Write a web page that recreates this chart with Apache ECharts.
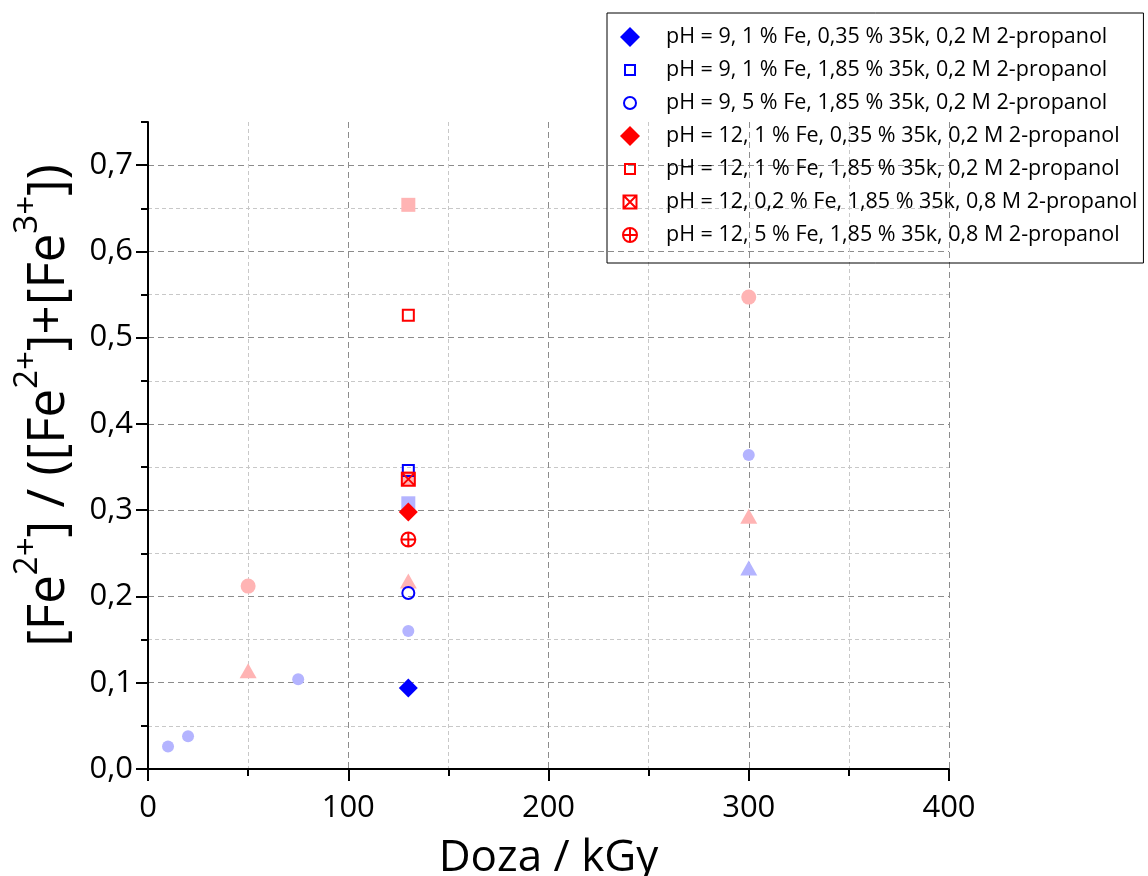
<!DOCTYPE html>
<html>
<head>
<meta charset="utf-8">
<script src="https://cdn.jsdelivr.net/npm/echarts@6/dist/echarts.min.js"></script>
<style>
html,body{margin:0;padding:0;background:#fff;}
#chart{width:1148px;height:876px;}
</style>
</head>
<body>
<div id="chart"></div>
<script>
// ---- data ----
const legendNames = [
  'pH = 9, 1 % Fe, 0,35 % 35k, 0,2 M 2-propanol',
  'pH = 9, 1 % Fe, 1,85 % 35k, 0,2 M 2-propanol',
  'pH = 9, 5 % Fe, 1,85 % 35k, 0,2 M 2-propanol',
  'pH = 12, 1 % Fe, 0,35 % 35k, 0,2 M 2-propanol',
  'pH = 12, 1 % Fe, 1,85 % 35k, 0,2 M 2-propanol',
  'pH = 12, 0,2 % Fe, 1,85 % 35k, 0,8 M 2-propanol',
  'pH = 12, 5 % Fe, 1,85 % 35k, 0,8 M 2-propanol'
];
// main series: [dose kGy, ratio]
const s1 = [[130, 0.094]];
const s2 = [[130, 0.346]];
const s3 = [[130, 0.204]];
const s4 = [[130, 0.298]];
const s5 = [[130, 0.526]];
const s6 = [[130, 0.336]];
const s7 = [[130, 0.266]];
// faded background points
const fadedBlueCircle = [[10, 0.026], [20, 0.038], [75, 0.104], [130, 0.160], [300, 0.364]];
const fadedBlueSquare = [[130, 0.308]];
const fadedBlueTriangle = [[300, 0.233]];
const fadedRedCircle = [[50, 0.212], [300, 0.547]];
const fadedRedSquare = [[130, 0.654], [130, 0.337]];
const fadedRedTriangle = [[50, 0.114], [130, 0.218], [300, 0.293]];
const xTitle = 'Doza / kGy';

// ---- style ----
const FONT = 'Open Sans';
const BLUE = '#0000ff', RED = '#ff0000';
const FBLUE = '#b4b4ff', FRED = '#ffb4b4';
const NONE = 'rgba(255,255,255,0)';
const P_SQUARE = 'path://M0,0L10,0L10,10L0,10Z';
const P_XSQUARE = 'path://M0,0L10,0L10,10L0,10ZM0,0L10,10M10,0L0,10';
const P_CPLUS = 'path://M10,5A5,5,0,1,1,0,5A5,5,0,1,1,10,5ZM5,0L5,10M0,5L10,5';
const L_DIAMOND = 'path://M10,0.5L19.5,10L10,19.5L0.5,10Z';
const L_SQUARE = 'path://M0,0M20,20M5,5L15,5L15,15L5,15Z';
const L_CIRCLE = 'path://M0,0M20,20M16,10A6,6,0,1,1,4,10A6,6,0,1,1,16,10Z';
const L_XSQUARE = 'path://M0,0M20,20M3.5,3.5L16.5,3.5L16.5,16.5L3.5,16.5ZM3.5,3.5L16.5,16.5M16.5,3.5L3.5,16.5';
const L_CPLUS = 'path://M0,0M20,20M17,10A7,7,0,1,1,3,10A7,7,0,1,1,17,10ZM10,3L10,17M3,10L17,10';

function faded(data, symbol, size, color) {
  return { type: 'scatter', data, symbol, symbolSize: size, itemStyle: { color, borderWidth: 0, opacity: 1 }, silent: true };
}
function main(name, data, symbol, size, color, open) {
  return {
    type: 'scatter', name, data, symbol, symbolSize: size,
    itemStyle: open ? { color: NONE, borderColor: color, borderWidth: 2, opacity: 1 } : { color, borderWidth: 0, opacity: 1 }
  };
}

const chart = echarts.init(document.getElementById('chart'), null, { renderer: 'canvas' });
const fmtY = v => (Math.abs(v * 10 - Math.round(v * 10)) > 1e-6) ? '' : v.toFixed(1).replace('.', ',');

const option = {
  backgroundColor: '#fff',
  animation: false,
  textStyle: { fontFamily: FONT },
  grid: { left: 148, right: 199, top: 122, bottom: 107, containLabel: false, outerBoundsMode: 'none' },
  xAxis: {
    type: 'value', min: 0, max: 400, interval: 100,
    name: xTitle, nameLocation: 'middle', nameGap: 67,
    nameTextStyle: { fontFamily: FONT, fontSize: 44, color: '#000' },
    axisLine: { show: true, onZero: false, lineStyle: { color: '#000', width: 2 } },
    axisTick: { show: true, inside: false, length: 12, lineStyle: { color: '#000', width: 2 } },
    minorTick: { show: true, splitNumber: 2, length: 7, lineStyle: { color: '#000', width: 2 } },
    axisLabel: { fontFamily: FONT, fontSize: 31, color: '#000', margin: 24 },
    splitLine: { show: true, lineStyle: { color: '#8c8c8c', width: 1, type: [6, 4] } },
    minorSplitLine: { show: true, lineStyle: { color: '#c8c8c8', width: 1, type: [4, 3] } }
  },
  yAxis: [
    {
      type: 'value', min: 0, max: 0.75, interval: 0.1, position: 'left',
      name: '{m|[Fe}{s|2+}{m|] / ([Fe}{s|2+}{m|]+[Fe}{s|3+}{m|])}',
      nameLocation: 'middle', nameRotate: 90, nameGap: 73,
      nameTextStyle: {
        fontFamily: FONT, color: '#000', padding: [0, 0, 0, 80],
        rich: {
          m: { fontFamily: FONT, fontSize: 51, color: '#000', lineHeight: 64, verticalAlign: 'bottom' },
          s: { fontFamily: FONT, fontSize: 33, color: '#000', lineHeight: 33, verticalAlign: 'top' }
        }
      },
      axisLine: { show: true, onZero: false, lineStyle: { color: '#000', width: 2 } },
      axisTick: { show: true, inside: false, length: 12, lineStyle: { color: '#000', width: 2 } },
      axisLabel: { fontFamily: FONT, fontSize: 31, color: '#000', margin: 15, formatter: fmtY, showMaxLabel: false },
      splitLine: { show: true, showMaxLine: false, lineStyle: { color: '#8c8c8c', width: 1, type: [6, 4] } }
    },
    {
      type: 'value', min: 0, max: 0.75, interval: 0.05, position: 'left',
      axisLine: { show: false },
      axisTick: { show: true, inside: false, length: 7, lineStyle: { color: '#000', width: 2 } },
      axisLabel: { show: false },
      splitLine: { show: true, showMaxLine: false, lineStyle: { color: ['rgba(0,0,0,0)', '#c8c8c8'], width: 1, type: [4, 3] } }
    }
  ],
  legend: {
    orient: 'vertical', left: 607, top: 13,
    padding: [13, 6, 17, 12],
    itemWidth: 24, itemHeight: 20, itemGap: 11,
    borderColor: '#000', borderWidth: 1, backgroundColor: 'transparent',
    formatter: n => '{t|' + n + '}',
    textStyle: {
      fontFamily: FONT, fontSize: 21.5, color: '#000', lineHeight: 20,
      rich: { t: { fontFamily: FONT, fontSize: 21.5, color: '#000', lineHeight: 20, padding: [0, 0, 0, 19] } }
    },
    data: [
      { name: legendNames[0], icon: L_DIAMOND, itemStyle: { color: BLUE, borderWidth: 0, opacity: 1 } },
      { name: legendNames[1], icon: L_SQUARE, itemStyle: { color: NONE, borderColor: BLUE, borderWidth: 2, opacity: 1 } },
      { name: legendNames[2], icon: L_CIRCLE, itemStyle: { color: NONE, borderColor: BLUE, borderWidth: 2, opacity: 1 } },
      { name: legendNames[3], icon: L_DIAMOND, itemStyle: { color: RED, borderWidth: 0, opacity: 1 } },
      { name: legendNames[4], icon: L_SQUARE, itemStyle: { color: NONE, borderColor: RED, borderWidth: 2, opacity: 1 } },
      { name: legendNames[5], icon: L_XSQUARE, itemStyle: { color: NONE, borderColor: RED, borderWidth: 2, opacity: 1 } },
      { name: legendNames[6], icon: L_CPLUS, itemStyle: { color: NONE, borderColor: RED, borderWidth: 2, opacity: 1 } }
    ]
  },
  series: [
    faded(fadedBlueCircle, 'circle', 12, FBLUE),
    faded(fadedBlueSquare, 'rect', 14, FBLUE),
    faded(fadedBlueTriangle, 'triangle', [17, 15], FBLUE),
    faded(fadedRedCircle, 'circle', 15, FRED),
    faded(fadedRedSquare, 'rect', 14, FRED),
    faded(fadedRedTriangle, 'triangle', [17, 15], FRED),
    main(legendNames[0], s1, 'diamond', 19, BLUE, false),
    main(legendNames[1], s2, P_SQUARE, 11, BLUE, true),
    main(legendNames[2], s3, 'circle', 12, BLUE, true),
    main(legendNames[3], s4, 'diamond', 19, RED, false),
    main(legendNames[4], s5, P_SQUARE, 11, RED, true),
    main(legendNames[5], s6, P_XSQUARE, 13, RED, true),
    main(legendNames[6], s7, P_CPLUS, 14, RED, true)
  ]
};
chart.setOption(option);
</script>
</body>
</html>
